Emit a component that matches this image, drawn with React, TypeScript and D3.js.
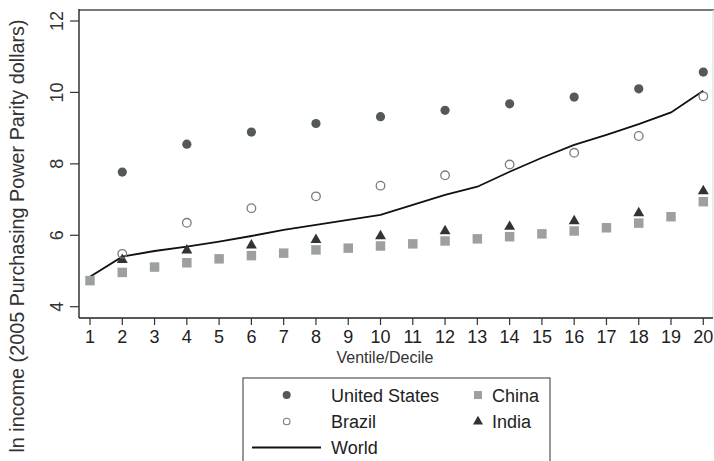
import React from "react";
import * as d3 from "d3";

const ventiles = d3.range(1, 21);
const deciles = [2, 4, 6, 8, 10, 12, 14, 16, 18, 20];
const xTicks = d3.range(1, 21);
const yTicks = [4, 6, 8, 10, 12];

const usValues = [7.77, 8.55, 8.89, 9.13, 9.32, 9.5, 9.68, 9.87, 10.1, 10.57];
const brazilValues = [5.48, 6.35, 6.76, 7.09, 7.39, 7.68, 7.98, 8.31, 8.78, 9.89];
const indiaValues = [5.31, 5.58, 5.72, 5.87, 5.98, 6.12, 6.24, 6.4, 6.62, 7.24];
const chinaValues = [4.73, 4.96, 5.11, 5.23, 5.34, 5.43, 5.5, 5.59, 5.64, 5.7, 5.76, 5.84, 5.9, 5.96, 6.04, 6.12, 6.21, 6.34, 6.52, 6.94];
const worldValues = [4.84, 5.4, 5.56, 5.68, 5.82, 5.98, 6.15, 6.29, 6.43, 6.57, 6.85, 7.13, 7.36, 7.78, 8.17, 8.53, 8.81, 9.11, 9.44, 10.05];

const FONT = "'Liberation Sans', Arial, Helvetica, sans-serif";
const NARROW = "'Liberation Sans Narrow', 'Liberation Sans', Arial, sans-serif";

const US_FILL = "#535957";
const BR_STROKE = "#7b7b7b";
const CN_FILL = "#9ca19f";
const IN_FILL = "#333333";

export default function App() {
  const W = 714, H = 461;
  const x = d3.scaleLinear().domain([1, 20]).range([90, 703.3]);
  const y = d3.scaleLinear().domain([4, 12]).range([306.7, 21]);
  const plotLeft = 79, plotTop = 10, plotBottom = 318, plotRight = 713;

  const line = d3.line<number>().x((_, i) => x(ventiles[i])).y((d) => y(d));
  const tri = d3.symbol(d3.symbolTriangle, 52)();
  const sq = d3.symbol(d3.symbolSquare, 90)();
  const triSmall = d3.symbol(d3.symbolTriangle, 44)();
  const sqSmall = d3.symbol(d3.symbolSquare, 64)();

  return (
    <svg width={W} height={H} style={{ position: "absolute", left: 0, top: 0, background: "#fff" }}>
      <rect x={0} y={0} width={W} height={H} fill="#fff" />
      {/* frame */}
      <line x1={plotLeft} x2={plotRight + 1} y1={plotTop} y2={plotTop} stroke="#7a7a7a" strokeWidth={2} />
      <line x1={plotRight} x2={plotRight} y1={plotTop} y2={plotBottom} stroke="#d8d8d8" strokeWidth={1} />
      <line x1={plotLeft} x2={plotLeft} y1={plotTop - 1} y2={plotBottom} stroke="#333" strokeWidth={1.5} />
      <line x1={plotLeft} x2={plotRight} y1={plotBottom} y2={plotBottom} stroke="#222" strokeWidth={1.5} />

      {/* y ticks */}
      {yTicks.map((t) => (
        <g key={"y" + t}>
          <line x1={70} x2={plotLeft} y1={y(t)} y2={y(t)} stroke="#333" strokeWidth={1.2} />
          <text
            transform={`translate(63,${y(t)}) rotate(-90)`}
            textAnchor="middle"
            fontFamily={FONT}
            fontSize={18}
            fill="#333"
          >
            {t}
          </text>
        </g>
      ))}

      {/* x ticks */}
      {xTicks.map((t) => (
        <g key={"x" + t}>
          <line x1={x(t)} x2={x(t)} y1={plotBottom} y2={plotBottom + 7} stroke="#333" strokeWidth={1.2} />
          <text x={x(t)} y={343} textAnchor="middle" fontFamily={FONT} fontSize={18} fill="#222">
            {t}
          </text>
        </g>
      ))}

      <text x={385} y={363} textAnchor="middle" fontFamily={NARROW} fontSize={16} fill="#333">
        Ventile/Decile
      </text>
      <text
        transform={`translate(24,236) rotate(-90)`}
        textAnchor="middle"
        fontFamily={FONT}
        fontSize={19.8}
        fill="#333"
      >
        ln income (2005 Purchasing Power Parity dollars)
      </text>

      {/* world line */}
      <path d={line(worldValues) || ""} fill="none" stroke="#111" strokeWidth={1.8} />

      {/* China squares */}
      {chinaValues.map((v, i) => (
        <path key={"cn" + i} d={sq || ""} transform={`translate(${x(ventiles[i])},${y(v)})`} fill={CN_FILL} />
      ))}
      {/* India triangles */}
      {indiaValues.map((v, i) => (
        <path key={"in" + i} d={tri || ""} transform={`translate(${x(deciles[i])},${y(v)})`} fill={IN_FILL} />
      ))}
      {/* Brazil open circles */}
      {brazilValues.map((v, i) => (
        <circle key={"br" + i} cx={x(deciles[i])} cy={y(v)} r={4.3} fill="none" stroke={BR_STROKE} strokeWidth={1.3} />
      ))}
      {/* US filled circles */}
      {usValues.map((v, i) => (
        <circle key={"us" + i} cx={x(deciles[i])} cy={y(v)} r={4.6} fill={US_FILL} />
      ))}

      {/* legend */}
      <rect x={243} y={378} width={307} height={100} fill="#fff" stroke="#555" strokeWidth={1.2} />
      <circle cx={286.7} cy={395} r={4} fill={US_FILL} />
      <text x={331} y={402} fontFamily={FONT} fontSize={18} fill="#222">United States</text>
      <circle cx={286.7} cy={421.5} r={3.3} fill="none" stroke={BR_STROKE} strokeWidth={1.1} />
      <text x={331} y={428} fontFamily={FONT} fontSize={18} fill="#222">Brazil</text>
      <line x1={252} x2={321} y1={447.5} y2={447.5} stroke="#111" strokeWidth={1.8} />
      <text x={331} y={454} fontFamily={FONT} fontSize={18} fill="#222">World</text>
      <path d={sqSmall || ""} transform="translate(478,395)" fill={CN_FILL} />
      <text x={492} y={402} fontFamily={FONT} fontSize={18} fill="#222">China</text>
      <path d={triSmall || ""} transform="translate(478,421.5)" fill={IN_FILL} />
      <text x={492} y={428} fontFamily={FONT} fontSize={18} fill="#222">India</text>
    </svg>
  );
}
